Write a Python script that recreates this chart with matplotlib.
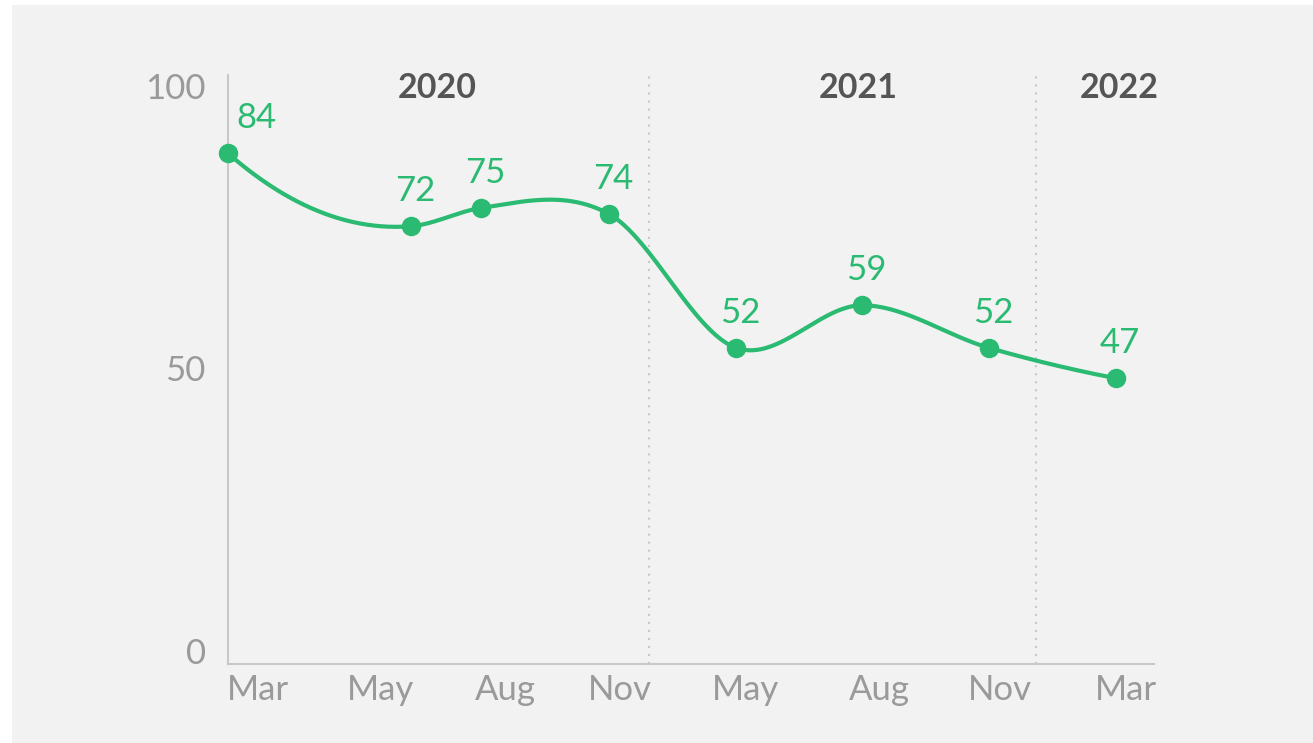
"""Survey score trend 2020-2022, smoothed line with labels."""

import matplotlib
matplotlib.use("Agg")
import matplotlib.pyplot as plt
from matplotlib.patches import Rectangle
import numpy as np

plt.rcParams["font.family"] = ["Lato", "DejaVu Sans"]

GREEN = "#2bba72"
GREY_TXT = "#9a9a9a"
YEAR_TXT = "#555555"
AXIS_COL = "#c8c8c8"
BG = "#f2f2f2"

# data
point_x = [0.0, 1.44, 1.99, 3.0, 4.0, 4.99, 5.99, 6.99]
values = [84, 72, 75, 74, 52, 59, 52, 47]

month_labels = ["Mar", "May", "Aug", "Nov", "May", "Aug", "Nov", "Mar"]
month_pos = [0.236, 1.197, 2.181, 3.087, 4.071, 5.126, 6.079, 7.071]

years = ["2020", "2021", "2022"]
year_pos = [1.646, 4.96, 7.02]
year_breaks = [3.315, 6.362]

y_tick_vals = [0, 50, 100]


def smooth_line(x, y, n=80):
    # cubic hermite, tangents from np.gradient on the uneven spacing
    x = np.asarray(x, float)
    y = np.asarray(y, float)
    m = np.gradient(y, x, edge_order=2)
    xs_all, ys_all = [], []
    for i in range(len(x) - 1):
        h = x[i + 1] - x[i]
        s = np.linspace(0, 1, n)
        h00 = 2 * s ** 3 - 3 * s ** 2 + 1
        h10 = s ** 3 - 2 * s ** 2 + s
        h01 = -2 * s ** 3 + 3 * s ** 2
        h11 = s ** 3 - s ** 2
        xs_all.append(x[i] + s * h)
        ys_all.append(h00 * y[i] + h10 * h * m[i] + h01 * y[i + 1] + h11 * h * m[i + 1])
    return np.concatenate(xs_all), np.concatenate(ys_all)


fig = plt.figure(figsize=(13.13, 7.43), dpi=100, facecolor="white")
fig.patches.append(Rectangle((12 / 1313, 0), 1, (743 - 5) / 743,
                             transform=fig.transFigure, facecolor=BG,
                             edgecolor="none", zorder=-10))

ax = fig.add_axes([228 / 1313, 79 / 743, 926 / 1313, 592 / 743])
ax.set_facecolor("none")
ymax = 592 / 6.08
ax.set_xlim(0, 7.29)
ax.set_ylim(0, ymax)

for s in ["top", "right"]:
    ax.spines[s].set_visible(False)
for s in ["left", "bottom"]:
    ax.spines[s].set_color(AXIS_COL)
    ax.spines[s].set_linewidth(1.5)
ax.spines["left"].set_bounds(0, ymax - 0.5)

ax.set_yticks([])
ax.set_xticks(month_pos)
ax.set_xticklabels(month_labels, fontsize=25, color=GREY_TXT)
ax.tick_params(axis="x", length=0, pad=7)

for xb in year_breaks:
    ax.plot([xb, xb], [0, ymax], color=AXIS_COL, lw=1.5,
            dashes=(1, 2.85), solid_capstyle="butt", dash_capstyle="butt")

for yr, xp in zip(years, year_pos):
    ax.text(xp, 93.1, yr, ha="center", va="baseline", fontsize=24.5,
            fontweight="bold", color=YEAR_TXT)

sx, sy = smooth_line(point_x, values)
ax.plot(sx, sy, color=GREEN, lw=3.0, solid_capstyle="round", zorder=3,
        clip_on=False)
ax.plot(point_x, values, "o", color=GREEN, markersize=13, zorder=4,
        clip_on=False)

for i, (x, v) in enumerate(zip(point_x, values)):
    if i == 0:
        ax.annotate(str(v), (x, v), xytext=(6, 18), textcoords="offset points",
                    ha="left", va="baseline", fontsize=25, color=GREEN)
    else:
        ax.annotate(str(v), (x, v), xytext=(3, 18), textcoords="offset points",
                    ha="center", va="baseline", fontsize=25, color=GREEN)

# y labels sit on their own evenly spaced scale
ax2 = ax.twinx()
ax2.set_ylim(0, 592 / 5.65)
for s in ax2.spines.values():
    s.set_visible(False)
ax2.yaxis.tick_left()
ax2.set_yticks(y_tick_vals)
ax2.set_yticklabels([str(v) for v in y_tick_vals], fontsize=25, color=GREY_TXT,
                    va="baseline")
ax2.tick_params(axis="y", length=0, pad=16)

fig.savefig("out.png", dpi=100, facecolor="white")
